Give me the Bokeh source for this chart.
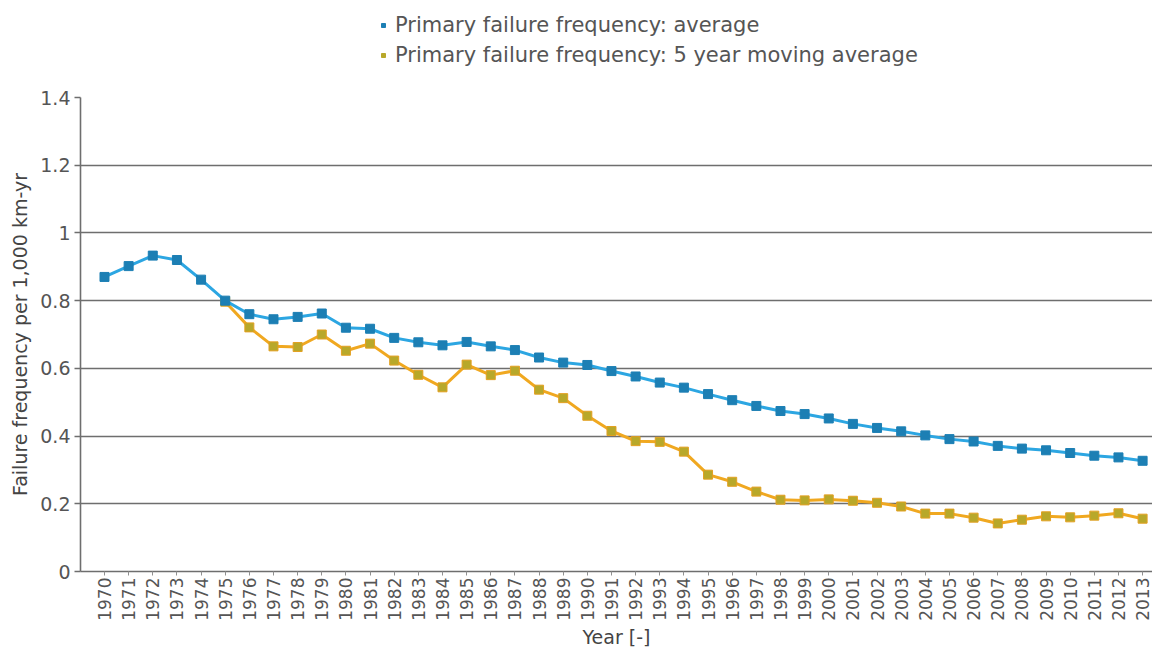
import math
from bokeh.plotting import figure
from bokeh.layouts import column
from bokeh.models import Range1d, FixedTicker, Legend, LegendItem, ColumnDataSource
from bokeh.embed import file_html
from bokeh.resources import INLINE

years = list(range(1970, 2014))

avg_freq = [0.870, 0.902, 0.933, 0.920, 0.862, 0.800, 0.760, 0.745, 0.752, 0.762,
            0.720, 0.717, 0.690, 0.677, 0.668, 0.678, 0.665, 0.654, 0.632, 0.617,
            0.610, 0.592, 0.576, 0.558, 0.543, 0.524, 0.506, 0.489, 0.474, 0.465,
            0.452, 0.436, 0.424, 0.414, 0.402, 0.391, 0.384, 0.371, 0.363, 0.358,
            0.350, 0.342, 0.337, 0.327]

mov_avg_freq = [None, None, None, None, None, 0.797, 0.721, 0.665, 0.663, 0.700,
                0.652, 0.673, 0.623, 0.581, 0.544, 0.611, 0.580, 0.593, 0.537, 0.512,
                0.460, 0.415, 0.385, 0.383, 0.354, 0.286, 0.265, 0.236, 0.212, 0.210,
                0.213, 0.209, 0.203, 0.192, 0.171, 0.171, 0.159, 0.142, 0.153, 0.163,
                0.160, 0.165, 0.172, 0.156]

y_ticks = [0, 0.2, 0.4, 0.6, 0.8, 1, 1.2, 1.4]
y_tick_labels = ["0", "0.2", "0.4", "0.6", "0.8", "1", "1.2", "1.4"]

series_names = ["Primary failure frequency: average",
                "Primary failure frequency: 5 year moving average"]

FONT = "DejaVu Sans"
AXIS_GREY = "#6e6e6e"
AVG_LINE, AVG_MARK = "#2ca6e2", "#1c7fb4"
MOV_LINE, MOV_MARK, MOV_EDGE = "#f0a820", "#b8a82a", "#e3a020"

src = ColumnDataSource(dict(
    year=years,
    avg=avg_freq,
    mov=[float("nan") if v is None else v for v in mov_avg_freq],
))

# ---------------- main chart ----------------
p = figure(width=1152, height=563, output_backend="svg", toolbar_location=None,
           x_range=Range1d(1969.006, 2013.41), y_range=Range1d(0, 1.4),
           min_border_left=80, min_border_right=0, min_border_top=10, min_border_bottom=77)
p.outline_line_color = None
p.background_fill_color = "white"
p.border_fill_color = "white"

p.xgrid.grid_line_color = None
p.ygrid.grid_line_color = AXIS_GREY
p.ygrid.grid_line_width = 1.6
p.ygrid.ticker = FixedTicker(ticks=y_ticks)

p.yaxis.ticker = FixedTicker(ticks=y_ticks)
p.yaxis.major_label_overrides = {t: l for t, l in zip(y_ticks, y_tick_labels)}
p.yaxis.axis_label = "Failure frequency per 1,000 km-yr"
p.yaxis.axis_label_text_font = FONT
p.yaxis.axis_label_text_font_size = "19px"
p.yaxis.axis_label_text_font_style = "normal"
p.yaxis.axis_label_text_color = "#444444"
p.yaxis.axis_label_standoff = 6
p.yaxis.major_label_text_font = FONT
p.yaxis.major_label_text_font_size = "19px"
p.yaxis.major_label_text_color = "#555555"
p.yaxis.major_label_standoff = 4
p.yaxis.major_tick_out = 6
p.yaxis.major_tick_in = 0
p.yaxis.minor_tick_line_color = None
p.yaxis.axis_line_color = AXIS_GREY
p.yaxis.axis_line_width = 1.6
p.yaxis.major_tick_line_color = AXIS_GREY
p.yaxis.major_tick_line_width = 1.6

p.xaxis.ticker = FixedTicker(ticks=years)
p.xaxis.major_label_orientation = math.pi / 2
p.xaxis.axis_label = "Year [-]"
p.xaxis.axis_label_text_font = FONT
p.xaxis.axis_label_text_font_size = "19px"
p.xaxis.axis_label_text_font_style = "normal"
p.xaxis.axis_label_text_color = "#444444"
p.xaxis.axis_label_standoff = 2
p.xaxis.major_label_text_font = FONT
p.xaxis.major_label_text_font_size = "17px"
p.xaxis.major_label_text_color = "#555555"
p.xaxis.major_label_standoff = 2
p.xaxis.major_tick_out = 4
p.xaxis.major_tick_in = 0
p.xaxis.minor_tick_line_color = None
p.xaxis.axis_line_color = AXIS_GREY
p.xaxis.axis_line_width = 1.6
p.xaxis.major_tick_line_color = "#909090"

p.line("year", "mov", source=src, line_color=MOV_LINE, line_width=3)
p.scatter("year", "mov", source=src, marker="square", size=9,
          fill_color=MOV_MARK, line_color=MOV_EDGE, line_width=1)
p.line("year", "avg", source=src, line_color=AVG_LINE, line_width=3)
p.scatter("year", "avg", source=src, marker="square", size=9,
          fill_color=AVG_MARK, line_color=AVG_MARK, line_width=1)

# ---------------- legend strip above the chart ----------------
leg = figure(width=1152, height=87, output_backend="svg", toolbar_location=None,
             x_range=Range1d(0, 1), y_range=Range1d(0, 1),
             x_axis_location=None, y_axis_location=None,
             min_border_left=0, min_border_right=0, min_border_top=0, min_border_bottom=0)
leg.grid.grid_line_color = None
leg.outline_line_color = None
leg.border_fill_color = "white"
# key glyphs only (placed outside the visible range, they only feed the legend swatches)
key_src = ColumnDataSource(dict(x=[-5], y=[-5]))
avg_key = leg.scatter("x", "y", source=key_src, marker="square", size=9,
                      fill_color=AVG_MARK, line_color=AVG_MARK)
mov_key = leg.scatter("x", "y", source=key_src, marker="square", size=9,
                      fill_color=MOV_MARK, line_color=MOV_MARK)

legend = Legend(items=[LegendItem(label=series_names[0], renderers=[avg_key]),
                       LegendItem(label=series_names[1], renderers=[mov_key])],
                location=(298, 20), orientation="vertical")
legend.padding = 0
legend.margin = 0
legend.spacing = 6
legend.label_height = 22
legend.glyph_width = 10
legend.glyph_height = 10
legend.label_standoff = 7
legend.label_text_font = FONT
legend.label_text_font_size = "21px"
legend.label_text_color = "#555555"
legend.border_line_color = None
legend.background_fill_alpha = 0
leg.add_layout(legend, "center")

layout = column(leg, p, spacing=0)

open("out.html", "w").write(file_html(layout, INLINE))
